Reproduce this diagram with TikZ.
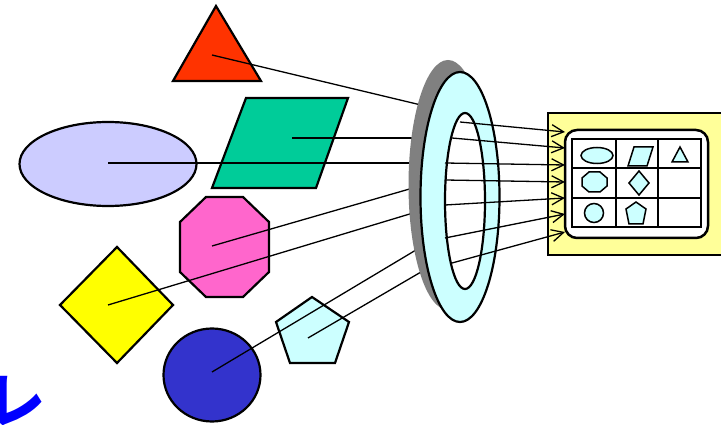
\documentclass[tikz,border=0pt]{standalone}
\usepackage{fontspec}
\newfontfamily\jpfont{Noto Sans CJK JP}
\usetikzlibrary{arrows.meta}
\definecolor{cred}{HTML}{FF3300}
\definecolor{cgreen}{HTML}{00CC99}
\definecolor{clav}{HTML}{CCCCFF}
\definecolor{cpink}{HTML}{FF66CC}
\definecolor{cyell}{HTML}{FFFF00}
\definecolor{cblue}{HTML}{3333CC}
\definecolor{ccyan}{HTML}{CCFFFF}
\definecolor{cgray}{HTML}{808080}
\definecolor{cbox}{HTML}{FFFF99}
\definecolor{kblue}{HTML}{0000FF}
\tikzset{
  shp/.style={draw=black, line width=2.2pt, line join=miter},
  mini/.style={draw=black, fill=ccyan, line width=1.5pt, line join=miter},
  conn/.style={draw=black, line width=1.3pt},
  arr/.style={conn, -{Straight Barb[length=12pt,width=12pt,line width=1.3pt]}},
}
\begin{document}
\begin{tikzpicture}[x=1pt,y=-1pt]
\useasboundingbox (0,0) rectangle (721,425);
\fill[white] (0,0) rectangle (721,425);
\begin{scope}
\clip (0,0) rectangle (721,425);
% blue letter fragment (cut off at the picture's edge, as in the reference)
\node[anchor=base west, inner sep=0, text=kblue, font=\jpfont\bfseries\fontsize{60}{60}\selectfont] (k) at (-15,422) {レ};
% shapes
\draw[shp, fill=cred] (216,6) -- (261,81) -- (173,81) -- cycle;
\coordinate (tri) at (212,55);
\draw[shp, fill=cgreen] (246,98) -- (348,98) -- (316,188) -- (212,188) -- cycle;
\coordinate (par) at (292,138);
\draw[shp, fill=clav] (108,164) ellipse [x radius=88.5, y radius=42];
\coordinate (ell) at (108,163);
\draw[shp, fill=cpink] (206,197) -- (243,197) -- (269,222) -- (269,272) -- (243,297) -- (206,297) -- (180,272) -- (180,222) -- cycle;
\coordinate (oct) at (212,246);
\draw[shp, fill=cyell] (60,305) -- (117,247) -- (173,305) -- (117,363) -- cycle;
\coordinate (dia) at (108,305);
\draw[shp, fill=cblue] (212,375) ellipse [x radius=48.5, y radius=46.5];
\coordinate (cir) at (212,372);
\draw[shp, fill=ccyan] (312,297) -- (349,322) -- (335,363) -- (290,363) -- (276,322) -- cycle;
\coordinate (pen) at (308,338);
% ring entry points
\coordinate (e1) at (421,105);
\coordinate (e2) at (413,138);
\coordinate (e3) at (413,163);
\coordinate (e4) at (413,188);
\coordinate (e5) at (413,213);
\coordinate (e6) at (421,247);
\coordinate (e7) at (421,272);
\draw[conn] (tri) -- (e1);
\draw[conn] (par) -- (e2);
\draw[conn] (ell) -- (e3);
\draw[conn] (oct) -- (e4);
\draw[conn] (dia) -- (e5);
\draw[conn] (cir) -- (e6);
\draw[conn] (pen) -- (e7);
% ring
\fill[cgray] (448,185) ellipse [x radius=39.5, y radius=125];
\draw[shp, fill=ccyan] (460,197) ellipse [x radius=39.5, y radius=125];
\draw[shp, fill=white] (465,201) ellipse [x radius=20, y radius=88];
% right box
\draw[line width=2pt, fill=cbox] (548,113) rectangle (724,255);
\draw[line width=2.5pt, fill=white, rounded corners=12pt] (565,130) rectangle (708,238);
\draw[line width=1.5pt] (572,139) rectangle (701,227);
\draw[line width=1.5pt] (616,139) -- (616,227);
\draw[line width=1.5pt] (658,139) -- (658,227);
\draw[line width=1.5pt] (572,168) -- (701,168);
\draw[line width=1.5pt] (572,198) -- (701,198);
% mini shapes
\draw[mini] (597,155.5) ellipse [x radius=16, y radius=8];
\draw[mini] (634,147) -- (653,147) -- (647,166) -- (628,166) -- cycle;
\draw[mini] (680,147) -- (688,162) -- (672,162) -- cycle;
\draw[mini] (589,172) -- (600,172) -- (607,178) -- (607,186) -- (600,192) -- (589,192) -- (582,186) -- (582,178) -- cycle;
\draw[mini] (639,171) -- (649,183) -- (639,195) -- (629,183) -- cycle;
\draw[mini] (594,213) circle [radius=9.5];
\draw[mini] (636,202) -- (646,209) -- (643,224) -- (629,224) -- (626,209) -- cycle;
% outgoing arrows
\coordinate (s1) at (460,122);
\coordinate (s2) at (452,138);
\coordinate (s3) at (445,163);
\coordinate (s4) at (445,180);
\coordinate (s5) at (445,205);
\coordinate (s6) at (445,238);
\coordinate (s7) at (452,263);
\coordinate (t1) at (565,132);
\coordinate (t2) at (565,148);
\coordinate (t3) at (565,165);
\coordinate (t4) at (565,182);
\coordinate (t5) at (565,198);
\coordinate (t6) at (565,214);
\coordinate (t7) at (565,232);
\foreach \i in {1,...,7} { \draw[arr] (s\i) -- (t\i); }
\end{scope}
\end{tikzpicture}
\end{document}
